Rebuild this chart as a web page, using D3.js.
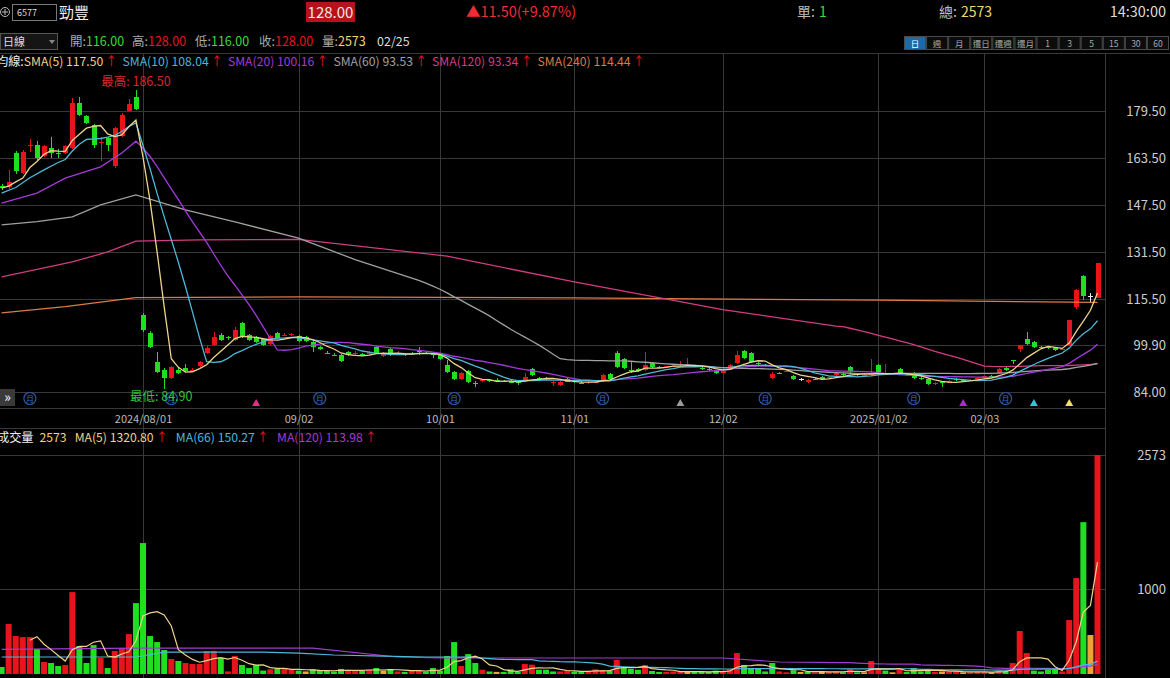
<!DOCTYPE html>
<html>
<head>
<meta charset="utf-8">
<script src="https://cdn.jsdelivr.net/npm/d3@7"></script>
<style>
  body { margin: 0; background: #000; overflow: hidden; }
  svg { display: block; font-family: "Noto Sans CJK TC", "Noto Sans", sans-serif; }
</style>
</head>
<body>
<div id="chart"></div>
<script>
// daily candles, 156 trading days, index 20 = 2024/08/01
const opens = [154.0,153.7,165.2,158.4,167.8,168.0,164.2,166.9,165.2,165.2,166.9,182.2,177.8,174.8,168.8,170.3,160.8,171.0,179.5,184.3,
  110.2,104.1,94.2,91.5,88.8,91.5,92.2,91.2,92.8,97.3,100.0,103.4,102.6,101.7,107.5,103.4,102.7,102.0,100.3,104.1,
  103.2,103.5,103.1,102.7,101.0,99.3,97.4,96.7,96.6,97.6,97.0,96.8,96.9,99.3,96.2,98.6,97.0,96.8,97.4,98.0,
  97.4,96.8,96.6,93.2,90.8,88.4,91.1,87.2,87.9,88.0,88.0,87.8,87.6,87.4,87.7,91.8,88.8,88.6,87.0,86.4,
  88.3,87.6,87.2,87.0,87.2,87.7,90.1,97.3,95.2,91.6,91.8,91.5,93.9,92.6,92.5,92.8,93.2,93.2,92.9,92.3,
  91.8,91.1,90.6,91.8,93.9,97.9,97.3,93.8,93.1,88.8,90.6,91.0,89.4,88.4,87.5,88.5,89.1,88.8,89.8,90.0,
  92.5,90.0,89.6,89.9,93.2,90.0,90.3,91.8,90.1,90.5,88.6,88.4,86.7,87.3,87.2,88.4,88.2,87.9,88.6,89.1,
  89.6,90.5,92.0,95.0,98.6,102.0,101.0,99.4,99.2,98.9,98.4,100.0,112.9,123.4,116.5,116.0];
const highs = [154.6,159.5,165.9,166.2,169.9,169.2,168.0,170.7,166.5,167.9,183.9,184.2,178.3,175.2,170.5,170.8,174.2,178.8,183.7,186.5,
  110.8,104.6,97.6,92.3,93.0,92.0,93.5,92.3,94.6,99.5,104.4,104.0,103.2,106.2,107.9,103.8,103.2,102.4,103.5,104.5,
  104.0,104.2,103.5,103.0,101.4,99.7,98.0,97.3,97.0,98.0,97.8,97.4,98.0,99.7,97.6,99.0,97.8,97.3,97.7,99.4,
  97.8,97.2,97.0,94.9,91.2,90.9,91.5,87.8,88.5,88.4,88.7,88.2,88.0,87.8,90.5,92.3,89.2,89.0,87.6,87.8,
  88.6,88.0,87.6,87.6,87.9,90.2,90.6,97.8,95.6,94.5,92.2,97.6,94.3,93.0,93.0,93.3,94.5,95.6,93.3,92.6,
  92.0,91.4,91.6,93.6,97.9,98.3,97.6,94.2,93.4,90.8,90.9,91.7,89.8,88.8,88.3,88.8,89.4,89.3,90.8,90.4,
  92.9,90.3,90.3,95.2,93.6,93.5,90.6,92.1,90.4,90.8,89.0,88.8,87.4,87.5,88.0,88.7,88.4,88.3,89.0,89.6,
  89.9,92.0,92.4,95.0,100.1,104.4,101.4,99.8,99.6,99.2,99.0,108.5,119.0,123.8,117.6,128.0];
const lows = [152.8,153.0,158.1,158.0,165.4,163.0,163.8,163.5,163.4,164.8,166.5,177.8,175.0,166.9,162.4,165.9,160.1,170.5,179.0,179.8,
  104.5,98.9,90.3,84.9,88.4,90.2,90.8,90.9,92.5,96.8,99.6,101.3,101.8,101.4,102.3,101.3,100.6,99.7,100.0,102.0,
  102.9,103.2,101.0,101.0,97.6,98.3,96.8,96.2,94.2,96.3,96.6,96.3,96.6,97.0,95.9,96.3,96.6,96.3,96.6,96.6,
  96.9,95.5,94.8,90.5,88.1,88.1,87.1,85.6,87.5,87.5,87.6,87.3,86.9,86.3,87.4,89.5,88.2,88.0,86.1,86.1,
  87.3,87.1,86.8,86.8,87.0,87.4,88.1,92.0,91.8,90.3,90.8,91.2,92.2,92.0,92.2,92.5,92.8,92.8,92.4,91.6,
  91.2,90.2,90.4,91.5,93.6,95.2,93.9,93.3,92.4,88.5,90.0,90.8,88.1,87.9,87.2,88.0,88.1,88.6,89.5,89.4,
  90.5,89.4,89.4,89.6,90.5,89.7,89.8,90.2,89.6,88.5,88.1,86.4,86.5,85.8,87.0,87.8,87.6,87.6,88.3,88.8,
  89.0,90.2,91.3,93.5,97.7,100.0,99.0,98.7,98.6,98.0,98.2,99.6,112.3,115.3,114.3,116.0];
const closes = [153.3,155.4,159.1,165.6,168.0,163.5,167.6,165.2,164.9,167.6,182.2,178.2,175.4,168.0,169.0,168.0,173.7,178.2,181.9,180.2,
  105.1,99.3,90.8,88.8,92.5,90.5,91.1,91.5,94.2,99.0,102.7,101.7,102.4,105.1,102.7,101.7,101.0,100.0,103.1,102.4,
  103.4,103.6,101.3,101.3,99.3,98.6,97.3,96.6,94.5,96.6,97.2,96.6,97.6,97.3,97.3,96.6,97.2,96.6,96.8,97.9,
  97.2,96.6,95.2,90.8,88.4,90.5,87.4,87.1,88.1,87.8,87.8,87.6,87.1,87.0,89.1,89.8,88.6,88.4,87.3,87.4,
  87.5,87.4,87.1,87.3,87.5,89.8,88.4,92.5,92.2,91.5,91.1,93.2,92.5,92.4,92.7,93.0,93.4,93.4,92.6,92.0,
  91.4,90.5,91.2,93.2,96.6,95.5,94.2,93.6,92.7,90.1,90.3,91.3,88.4,88.4,88.0,88.4,88.4,89.1,90.5,89.8,
  90.8,89.8,89.8,90.5,90.8,90.1,90.1,90.5,89.8,88.8,88.4,86.7,87.1,87.1,87.6,88.0,88.0,88.1,88.8,89.4,
  89.4,91.8,91.6,94.9,99.9,100.3,99.3,99.0,98.9,98.3,98.6,108.5,118.7,116.5,116.5,128.0];
const volumes = [82,587,446,434,434,293,141,129,94,106,962,329,129,340,188,70,270,305,469,833,
  1538,446,375,282,176,153,129,117,117,270,270,188,30,211,106,70,106,40,55,60,
  70,50,40,30,55,40,35,30,60,50,40,35,50,70,40,59,30,25,45,45,
  30,70,40,211,375,94,234,129,50,30,25,25,55,25,117,110,50,50,30,30,
  45,25,25,30,55,45,40,164,70,60,50,106,35,25,25,30,30,25,25,25,
  25,40,30,55,246,106,60,70,30,129,30,20,45,25,25,20,30,25,30,20,
  55,20,20,153,55,40,20,50,25,70,30,55,25,30,25,35,20,20,25,25,
  20,40,30,130,505,246,40,30,50,60,30,634,1127,1784,458,2573];

// date axis ticks (index into the candles above)
const dateTickIdx = [20, 42, 62, 81, 102, 124, 139];
const dateTickLabels = ["2024/08/01", "09/02", "10/01", "11/01", "12/02", "2025/01/02", "02/03"];
const priceTicks = [179.50, 163.50, 147.50, 131.50, 115.50, 99.90, 84.00];
const volTicks = [2573, 1000];

// moving-average values before a full window exists inside the visible days: [index, value]
const sma5Early = [[0,153.3],[1,154.0],[2,155.4],[3,156.7]];
const sma10Early = [[0,151.6],[2,153.5],[4,156.8],[6,159.5],[8,162.0]];
const sma20Early = [[0,148.2],[5,151.6],[9,156.7],[14,160.5],[17,165.2]];
const sma60Early = [[0,140.8],[5,141.9],[10,143.5],[14,147.6],[19,151.0],[26,145.9],[33,141.8],[42,136.3],[50,129.0]];
const sma120Early = [[0,123.1],[10,128.2],[15,131.6],[19,135.3],[28,135.7],[42,135.9],[63,130.2],[81,121.4],[102,112.0],[118,106.4]];
const sma240Knots = [[0,110.9],[9,113.0],[19,116.1],[42,116.3],[81,116.0],[124,115.2],[155,114.44]];
const volMa66Early = [[0,200],[19,200],[23,258],[37,258],[42,246],[47,223],[54,211],[60,200]];
const volMa120Early = [[0,290],[19,305],[44,305],[56,200],[62,188],[102,188],[110,141]];

// marker rows under the candles
const revenueIdx = [4, 24, 45, 64, 85, 108, 129, 142];
const eventIdx = [36, 96, 136, 146, 151];
const eventKind = ["a", "b", "c", "d", "e"];

const W = 1170, H = 678;
const red = "#e8141c", green = "#1fe01f", flat = "#f0a232", grid = "#383838";
const maColors = {s5: "#efd38c", s10: "#4db8d8", s20: "#a23ad8", s60: "#a0a0a0", s120: "#d23c80", s240: "#dc7a48"};

const svg = d3.select("#chart").append("svg").attr("width", W).attr("height", H);

const n = closes.length;
const x = d3.scaleLinear().domain([0, n - 1]).range([1.6, 1097.5]);
const yP = d3.scaleLinear().domain([84, 179.5]).range([392, 111]);
const yV = d3.scaleLinear().domain([0, 2573]).range([674, 455]);

const plotRight = 1105;

function sma(arr, len) {
  return arr.map((d, i) => i < len - 1 ? null : d3.mean(arr.slice(i - len + 1, i + 1)));
}
function maPoints(early, arr, len) {
  const pts = early.map(([i, v]) => ({i, v}));
  sma(arr, len).forEach((v, i) => { if (v != null) pts.push({i, v}); });
  return pts;
}

// clip paths
const defs = svg.append("defs");
defs.append("clipPath").attr("id", "clipP").append("rect").attr("x", 0).attr("y", 54).attr("width", plotRight).attr("height", 354);
defs.append("clipPath").attr("id", "clipV").append("rect").attr("x", 0).attr("y", 429).attr("width", plotRight).attr("height", 249);

// ---------- header ----------
const hdr = svg.append("g").attr("font-size", 14);
hdr.append("circle").attr("cx", 5).attr("cy", 12).attr("r", 4.5).attr("fill", "none").attr("stroke", "#bbb");
hdr.append("path").attr("d", "M2,12H8M5,9V15").attr("stroke", "#bbb");
hdr.append("rect").attr("x", 12.5).attr("y", 4.5).attr("width", 44).attr("height", 16).attr("fill", "#000").attr("stroke", "#777");
hdr.append("text").attr("x", 17).attr("y", 16).attr("font-size", 9).attr("fill", "#ddd").text("6577");
hdr.append("text").attr("x", 59).attr("y", 18).attr("font-size", 15).attr("fill", "#eee").text("勁豐");
hdr.append("rect").attr("x", 306).attr("y", 2).attr("width", 49).attr("height", 20).attr("fill", "#b5121b");
hdr.append("text").attr("x", 330.5).attr("y", 18).attr("text-anchor", "middle").attr("font-size", 15).attr("fill", "#f2e6e6").text("128.00");
hdr.append("text").attr("x", 466).attr("y", 17).attr("font-size", 14.5).attr("fill", "#ef2b35").text("▲11.50(+9.87%)");
hdr.append("text").attr("x", 797).attr("y", 17).attr("fill", "#bbb").text("單:")
  .append("tspan").attr("dx", 4).attr("fill", "#3bdc3b").text("1");
hdr.append("text").attr("x", 939).attr("y", 17).attr("fill", "#bbb").text("總:")
  .append("tspan").attr("dx", 4).attr("fill", "#f3d66a").text("2573");
hdr.append("text").attr("x", 1166).attr("y", 17).attr("text-anchor", "end").attr("font-size", 14.5).attr("fill", "#ddd").text("14:30:00");

// row 2
hdr.append("rect").attr("x", 0.5).attr("y", 33.5).attr("width", 57).attr("height", 16).attr("fill", "#151515").attr("stroke", "#555");
hdr.append("text").attr("x", 3).attr("y", 46).attr("font-size", 11).attr("fill", "#ddd").text("日線");
hdr.append("path").attr("d", "M49,40L55,40L52,44Z").attr("fill", "#888");
const quote = [
  {x: 70, lab: "開:", val: "116.00", c: "#3bdc3b"},
  {x: 132, lab: "高:", val: "128.00", c: red},
  {x: 195, lab: "低:", val: "116.00", c: "#3bdc3b"},
  {x: 259, lab: "收:", val: "128.00", c: red},
  {x: 322, lab: "量:", val: "2573", c: "#f3d66a"}
];
quote.forEach(q => {
  const t = hdr.append("text").attr("x", q.x).attr("y", 46).attr("font-size", 12.5).attr("fill", "#aaa").text(q.lab);
  t.append("tspan").attr("fill", q.c).text(q.val);
});
hdr.append("text").attr("x", 377).attr("y", 46).attr("font-size", 12.5).attr("fill", "#ddd").text("02/25");

const btns = ["日", "週", "月", "還日", "還週", "還月", "1", "3", "5", "15", "30", "60"];
const bx = d3.scaleBand().domain(d3.range(btns.length)).range([904, 1169]);
const bg = hdr.append("g");
bg.selectAll("rect").data(btns).join("rect")
  .attr("x", (d, i) => bx(i) + 0.5).attr("y", 36.5).attr("width", bx.bandwidth() - 1).attr("height", 13)
  .attr("fill", (d, i) => i === 0 ? "#1f6aa5" : "#0c0c0c").attr("stroke", "#4a4a4a");
bg.selectAll("text").data(btns).join("text")
  .attr("x", (d, i) => bx(i) + bx.bandwidth() / 2).attr("y", 46.5).attr("text-anchor", "middle")
  .attr("font-size", 8.5).attr("fill", (d, i) => i === 0 ? "#fff" : "#aaa").text(d => d);

// ---------- frame & grid ----------
const frame = svg.append("g").attr("stroke", grid).attr("shape-rendering", "crispEdges");
frame.append("line").attr("x1", 0).attr("x2", W).attr("y1", 53.5).attr("y2", 53.5);
frame.append("line").attr("x1", 0).attr("x2", plotRight).attr("y1", 408.5).attr("y2", 408.5);
frame.append("line").attr("x1", 0).attr("x2", plotRight).attr("y1", 428.5).attr("y2", 428.5);
frame.append("line").attr("x1", plotRight + 0.5).attr("x2", plotRight + 0.5).attr("y1", 54).attr("y2", H);
frame.selectAll("line.vg").data(dateTickIdx).join("line").attr("class", "vg")
  .attr("x1", d => Math.round(x(d)) + 0.5).attr("x2", d => Math.round(x(d)) + 0.5).attr("y1", 54).attr("y2", H);
frame.selectAll("line.hp").data(priceTicks).join("line").attr("class", "hp")
  .attr("x1", 0).attr("x2", plotRight).attr("y1", d => Math.round(yP(d)) + 0.5).attr("y2", d => Math.round(yP(d)) + 0.5);
frame.selectAll("line.hv").data(volTicks).join("line").attr("class", "hv")
  .attr("x1", 0).attr("x2", plotRight).attr("y1", d => Math.round(yV(d)) + 0.5).attr("y2", d => Math.round(yV(d)) + 0.5);

// right axes
const yAxisP = d3.axisRight(yP).tickValues(priceTicks).tickFormat(d3.format(".2f")).tickSize(0);
svg.append("g").attr("transform", "translate(1166,0)").call(yAxisP)
  .call(g => g.select(".domain").remove())
  .selectAll("text").attr("x", 0).attr("text-anchor", "end").attr("fill", "#ccc").attr("font-size", 13)
  .attr("font-family", "\"Noto Sans CJK TC\", sans-serif");
const yAxisV = d3.axisRight(yV).tickValues(volTicks).tickFormat(d3.format("d")).tickSize(0);
svg.append("g").attr("transform", "translate(1166,0)").call(yAxisV)
  .call(g => g.select(".domain").remove())
  .selectAll("text").attr("x", 0).attr("text-anchor", "end").attr("fill", "#ccc").attr("font-size", 13)
  .attr("font-family", "\"Noto Sans CJK TC\", sans-serif");

// date axis
const xAxis = d3.axisBottom(x).tickValues(dateTickIdx).tickFormat((d, i) => dateTickLabels[i]).tickSize(0);
svg.append("g").attr("transform", "translate(0,412)").call(xAxis)
  .call(g => g.select(".domain").remove())
  .selectAll("text").attr("fill", "#bbb").attr("font-size", 11)
  .attr("font-family", "\"Noto Sans CJK TC\", sans-serif");

// marker row (drawn first so the low label sits on top)
const mk = svg.append("g");
mk.append("rect").attr("x", 0).attr("y", 389).attr("width", 15).attr("height", 17).attr("fill", "#3a3a3a");
mk.append("text").attr("x", 7.5).attr("y", 402).attr("text-anchor", "middle").attr("font-size", 14).attr("fill", "#fff").text("»");
mk.selectAll("circle").data(revenueIdx).join("circle")
  .attr("cx", i => x(i)).attr("cy", 398.5).attr("r", 6).attr("fill", "none").attr("stroke", "#2c57a8").attr("stroke-width", 1.2);
mk.selectAll("text.rv").data(revenueIdx).join("text").attr("class", "rv")
  .attr("x", i => x(i)).attr("y", 402).attr("text-anchor", "middle").attr("font-size", 8).attr("fill", "#3a6fd0").text("月");
const kindColor = d3.scaleOrdinal().domain(["a", "b", "c", "d", "e"]).range(["#e0308a", "#9a9a9a", "#a22fd0", "#30c8d8", "#f2e06a"]);
mk.selectAll("path").data(eventIdx).join("path")
  .attr("d", i => `M${x(i)},399L${x(i) + 4},406L${x(i) - 4},406Z`)
  .attr("fill", (i, k) => kindColor(eventKind[k]));

// ---------- candles ----------
function candleDir(i) {
  if (closes[i] > opens[i]) return 1;
  if (closes[i] < opens[i]) return -1;
  if (i === 0) return 0;
  return Math.sign(closes[i] - closes[i - 1]);
}
function candleColor(i) {
  const d = candleDir(i);
  return d > 0 ? red : d < 0 ? green : "#e8e8e8";
}
const cg = svg.append("g").attr("clip-path", "url(#clipP)").attr("shape-rendering", "crispEdges");
const idx = d3.range(n);
cg.selectAll("line").data(idx).join("line")
  .attr("x1", i => Math.round(x(i)) + 0.5).attr("x2", i => Math.round(x(i)) + 0.5)
  .attr("y1", i => yP(highs[i])).attr("y2", i => yP(lows[i]))
  .attr("stroke", i => candleColor(i));
cg.selectAll("rect").data(idx).join("rect")
  .attr("x", i => Math.round(x(i)) - 2).attr("width", 5)
  .attr("y", i => yP(Math.max(opens[i], closes[i])))
  .attr("height", i => Math.max(1, Math.abs(yP(opens[i]) - yP(closes[i]))))
  .attr("fill", i => candleColor(i));

// moving averages on price
const lineP = d3.line().x(d => x(d.i)).y(d => yP(d.v));
const maG = svg.append("g").attr("clip-path", "url(#clipP)").attr("fill", "none").attr("stroke-width", 1.3);
const priceMAs = [
  {pts: sma240Knots.map(([i, v]) => ({i, v})), c: maColors.s240},
  {pts: maPoints(sma120Early, closes, 120), c: maColors.s120},
  {pts: maPoints(sma60Early, closes, 60), c: maColors.s60},
  {pts: maPoints(sma20Early, closes, 20), c: maColors.s20},
  {pts: maPoints(sma10Early, closes, 10), c: maColors.s10},
  {pts: maPoints(sma5Early, closes, 5), c: maColors.s5}
];
priceMAs.forEach(m => maG.append("path").attr("d", lineP(m.pts)).attr("stroke", m.c));

// high / low labels
const hiI = d3.maxIndex(highs), loI = d3.minIndex(lows);
svg.append("text").attr("x", x(hiI)).attr("y", yP(highs[hiI]) - 4).attr("text-anchor", "middle")
  .attr("font-size", 12.5).attr("fill", "#d8262e").text("最高: " + highs[hiI].toFixed(2));
svg.append("text").attr("x", x(loI) - 3).attr("y", yP(lows[loI]) + 12).attr("text-anchor", "middle")
  .attr("font-size", 12.5).attr("fill", "#2fc43a").text("最低: " + lows[loI].toFixed(2));

// ---------- volume ----------
function volColor(i) {
  const d = i === 0 ? candleDir(0) : Math.sign(closes[i] - closes[i - 1]);
  return d > 0 ? red : d < 0 ? green : flat;
}
const vg = svg.append("g").attr("clip-path", "url(#clipV)");
vg.selectAll("rect").data(idx).join("rect")
  .attr("x", i => x(i) - 3).attr("width", 6)
  .attr("y", i => yV(volumes[i])).attr("height", i => yV(0) - yV(volumes[i]))
  .attr("fill", i => volColor(i));

const lineV = d3.line().x(d => x(d.i)).y(d => yV(d.v));
const vmG = svg.append("g").attr("clip-path", "url(#clipV)").attr("fill", "none").attr("stroke-width", 1.2);
vmG.append("path").attr("d", lineV(maPoints(volMa120Early, volumes, 120))).attr("stroke", "#9c3ed0");
vmG.append("path").attr("d", lineV(maPoints(volMa66Early, volumes, 66))).attr("stroke", "#4db8d8");
vmG.append("path").attr("d", lineV(maPoints([], volumes, 5))).attr("stroke", "#efd38c");

// ---------- legends ----------
const leg = svg.append("text").attr("x", -4).attr("y", 66).attr("font-size", 12.2);
leg.append("tspan").attr("fill", "#eee").text("均線:");
const legItems = [
  ["SMA(5) 117.50", maColors.s5], ["SMA(10) 108.04", maColors.s10], ["SMA(20) 100.16", maColors.s20],
  ["SMA(60) 93.53", maColors.s60], ["SMA(120) 93.34", maColors.s120], ["SMA(240) 114.44", maColors.s240]
];
legItems.forEach(([t, c], k) => {
  leg.append("tspan").attr("fill", c).attr("dx", k ? 5 : 0).text(t);
  leg.append("tspan").attr("fill", red).attr("dx", 2).text("↑");
});

const vleg = svg.append("text").attr("x", -3).attr("y", 442).attr("font-size", 12.2);
vleg.append("tspan").attr("fill", "#eee").text("成交量");
vleg.append("tspan").attr("fill", "#f3d66a").attr("dx", 6).text("2573");
[["MA(5) 1320.80", "#efd38c"], ["MA(66) 150.27", "#4db8d8"], ["MA(120) 113.98", "#a23ad8"]].forEach(([t, c]) => {
  vleg.append("tspan").attr("fill", c).attr("dx", 8).text(t);
  vleg.append("tspan").attr("fill", red).attr("dx", 2).text("↑");
});
</script>
</body>
</html>
